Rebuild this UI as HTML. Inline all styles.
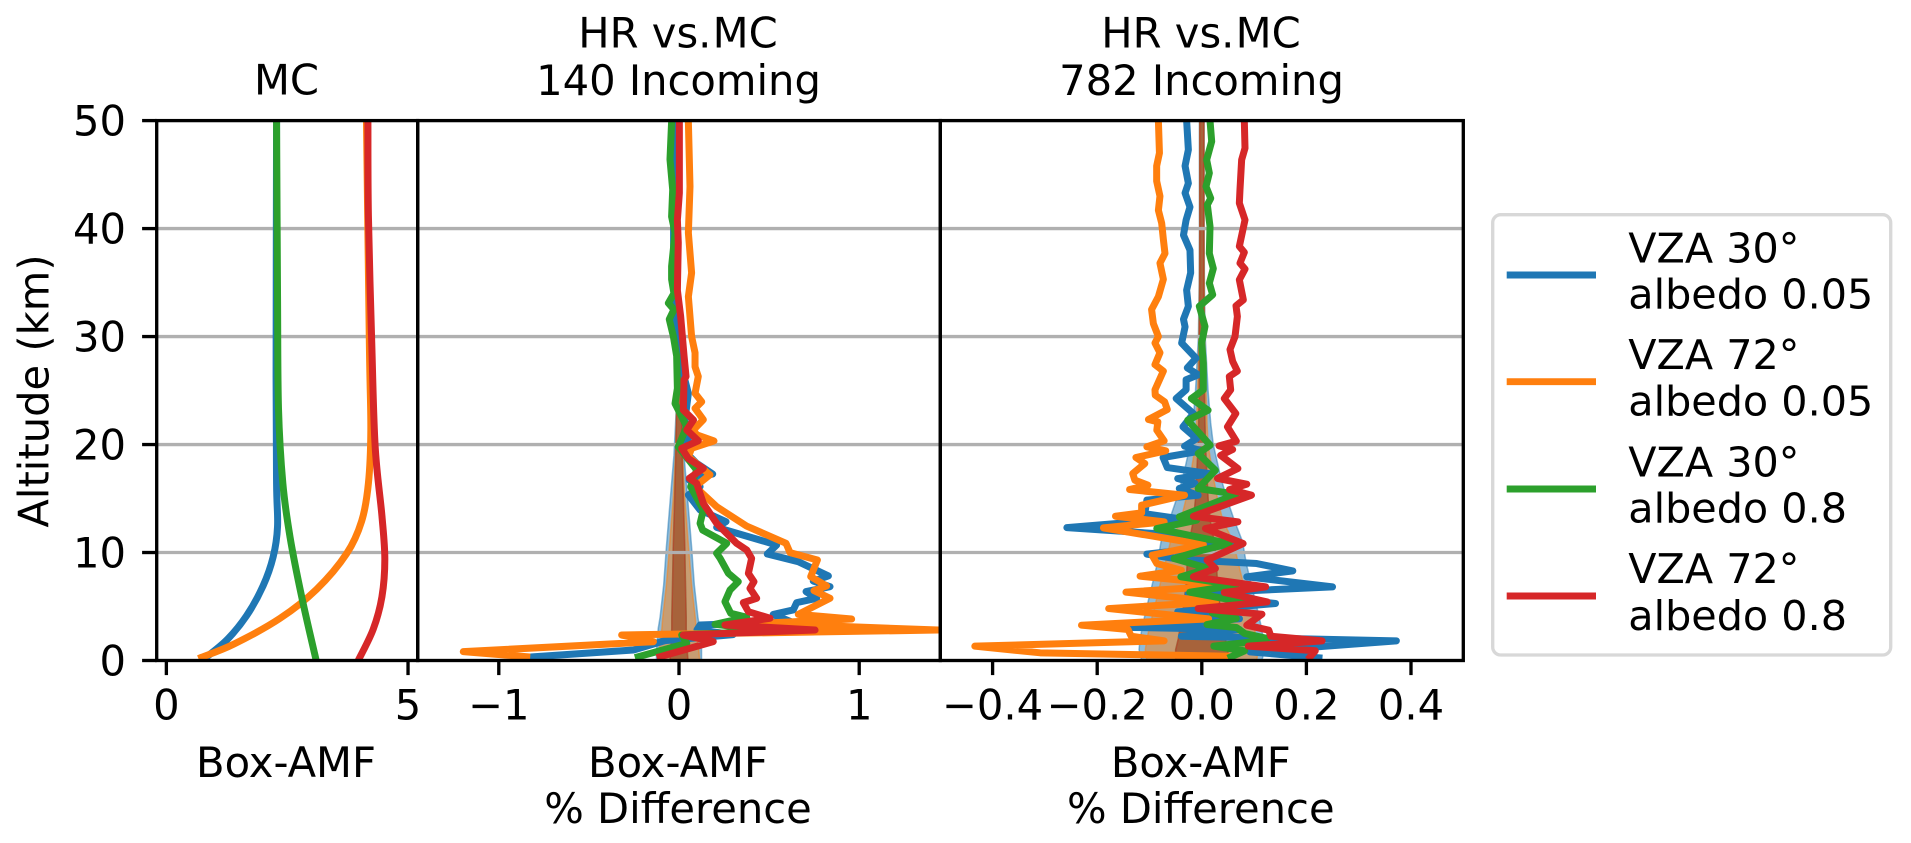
<!DOCTYPE html>
<html lang="en">
<head>
<meta charset="utf-8">
<title>Box-AMF profiles</title>
<style>
html,body{margin:0;padding:0;background:#fff;width:1911px;height:843px;overflow:hidden}
svg{display:block}
text{font-family:"DejaVu Sans","Liberation Sans",sans-serif;font-size:41.67px;fill:#000}
.lg{font-size:41.3px}
</style>
</head>
<body>
<svg id="chart" xmlns="http://www.w3.org/2000/svg" width="1911" height="843" viewBox="0 0 1911 843">
  <defs>
    <clipPath id="clip-mc"><rect x="156.7" y="120.6" width="261" height="540"/></clipPath>
    <clipPath id="clip-p140"><rect x="417.7" y="120.6" width="522.6" height="540"/></clipPath>
    <clipPath id="clip-p782"><rect x="940.3" y="120.6" width="523" height="540"/></clipPath>
  </defs>
  <rect width="1911" height="843" fill="#fff"/>
  <g id="bands"></g>
  <g id="grid"></g>
  <g id="lines"></g>
  <g id="axes"></g>

  <text x="286.5" y="94.7" text-anchor="middle">MC</text>
  <text x="678" y="47.7" text-anchor="middle">HR vs.<tspan font-size="4"> </tspan>MC</text>
  <text x="678.5" y="95" text-anchor="middle">140 Incoming</text>
  <text x="1201" y="47.7" text-anchor="middle">HR vs.<tspan font-size="4"> </tspan>MC</text>
  <text x="1201.5" y="95" text-anchor="middle">782 Incoming</text>

  <text transform="translate(48.3 391) rotate(-90)" text-anchor="middle">Altitude (km)</text>

  <text x="286" y="777" text-anchor="middle">Box-AMF</text>
  <text x="678" y="777" text-anchor="middle">Box-AMF</text>
  <text x="678" y="823" text-anchor="middle">% Difference</text>
  <text x="1200.8" y="777" text-anchor="middle">Box-AMF</text>
  <text x="1200.8" y="823" text-anchor="middle">% Difference</text>

  <g>
    <rect x="1492.7" y="214.7" width="398" height="440.3" rx="8" ry="8" fill="#fff" stroke="#d8d8d8" stroke-width="3.33"/>
    <g>
      <line x1="1506.7" x2="1596" y1="275" y2="275" stroke="#1f77b4" stroke-width="6.9"/>
      <text class="lg" x="1628.3" y="262.7">VZA 30°</text>
      <text class="lg" x="1628.3" y="308.5">albedo 0.05</text>
    </g>
    <g>
      <line x1="1506.7" x2="1596" y1="381.7" y2="381.7" stroke="#ff7f0e" stroke-width="6.9"/>
      <text class="lg" x="1628.3" y="369">VZA 72°</text>
      <text class="lg" x="1628.3" y="415.7">albedo 0.05</text>
    </g>
    <g>
      <line x1="1506.7" x2="1596" y1="489" y2="489" stroke="#2ca02c" stroke-width="6.9"/>
      <text class="lg" x="1628.3" y="476.7">VZA 30°</text>
      <text class="lg" x="1628.3" y="522.5">albedo 0.8</text>
    </g>
    <g>
      <line x1="1506.7" x2="1596" y1="596" y2="596" stroke="#d62728" stroke-width="6.9"/>
      <text class="lg" x="1628.3" y="583">VZA 72°</text>
      <text class="lg" x="1628.3" y="630">albedo 0.8</text>
    </g>
  </g>
</svg>
<script>
// ---- tick labels ----
const altitudeTicks = [0, 10, 20, 30, 40, 50];
const altitudeGrid = [10, 20, 30, 40];
const mcTicks = [0, 5];
const p140Ticks = [-1, 0, 1];
const p782Ticks = [-0.4, -0.2, 0, 0.2, 0.4];
const mcTickLabels = ['0', '5'];
const p140TickLabels = ['\u22121', '0', '1'];
const p782TickLabels = ['\u22120.4', '\u22120.2', '0.0', '0.2', '0.4'];

// ---- MC panel: Box-AMF ----
const mcBlueAlt = [0.1, 1.9, 4.15, 6.9, 9.6, 12.4, 16.4, 26.3, 50];
const mcBlueVal = [0.766, 1.25, 1.66, 2.0, 2.21, 2.3, 2.28, 2.27, 2.28];
const mcOrangeAlt = [0.3, 1.5, 3.9, 6.6, 9.9, 12.9, 16.4, 21.3, 29.3, 50];
const mcOrangeVal = [0.73, 1.39, 2.35, 3.11, 3.73, 4.04, 4.18, 4.23, 4.2, 4.14];
const mcGreenAlt = [0, 5.9, 11.4, 16.4, 23.3, 33.8, 50];
const mcGreenVal = [3.1, 2.8, 2.56, 2.41, 2.32, 2.3, 2.28];
const mcRedAlt = [0, 2.9, 5.9, 9.4, 13.4, 19.8, 29.3, 41.2, 50];
const mcRedVal = [3.97, 4.28, 4.46, 4.52, 4.46, 4.32, 4.25, 4.18, 4.17];

// ---- 140 Incoming panel: % difference ----
const p140BlueAlt = [0.3, 0.97, 1.84, 2.4, 2.85, 3.29, 3.6, 4.27, 4.68, 5.36, 5.76, 6.38, 6.84, 7.36, 7.83, 9.15, 9.86, 10.7, 12.33, 12.86, 13.94, 15.33, 16.1, 16.7, 17.27, 18.26, 19.65, 20.4, 22.27, 24.74, 25.97, 30, 33.1, 36.5, 39.6, 43.6, 46.4, 50];
const p140BlueVal = [-0.845, -0.253, -0.078, 0.3, 0.1, 0.117, 0.62, 0.523, 0.634, 0.653, 0.764, 0.705, 0.838, 0.745, 0.829, 0.662, 0.49, 0.542, 0.209, 0.261, 0.117, 0.052, 0.117, 0.057, 0.187, 0.098, 0.015, 0.052, 0.033, 0.052, 0.033, -0.015, -0.02, -0.03, -0.03, -0.03, -0.03, -0.03];
const p140OrangeAlt = [0.35, 0.82, 1.74, 2.36, 2.82, 3.44, 3.84, 4.27, 5.76, 6.47, 6.9, 7.77, 9.31, 9.99, 10.85, 12.45, 14.24, 15.1, 16.1, 17.2, 18.87, 19.65, 20.33, 20.9, 21.35, 22.3, 23.35, 23.96, 24.74, 26.3, 27.2, 28.5, 30, 33.7, 35.9, 39.6, 43.9, 49.9];
const p140OrangeVal = [-0.845, -1.197, -0.142, -0.318, 1.439, 0.45, 0.958, 0.662, 0.838, 0.749, 0.819, 0.731, 0.768, 0.616, 0.594, 0.375, 0.209, 0.154, 0.089, 0.172, 0.052, 0.07, 0.194, 0.098, 0.08, 0.135, 0.089, 0.126, 0.089, 0.107, 0.089, 0.089, 0.07, 0.052, 0.07, 0.052, 0.061, 0.052];
const p140GreenAlt = [0.35, 1.59, 2.36, 2.75, 3.35, 4.0, 4.37, 5.45, 6.53, 7.3, 8.07, 9.46, 9.93, 10.85, 12.08, 12.7, 13.94, 16.1, 17.64, 19.8, 21.66, 23.8, 25.2, 28.2, 30, 31.6, 32.5, 33.1, 34, 35.3, 36.5, 39.6, 41.1, 43.6, 46.4, 49.9];
const p140GreenVal = [-0.226, 0.043, 0.015, 0.5, 0.2, 0.376, 0.287, 0.255, 0.283, 0.329, 0.274, 0.228, 0.209, 0.265, 0.131, 0.117, 0.135, 0.065, 0.098, -0.004, 0.043, -0.022, -0.009, -0.013, -0.031, -0.054, -0.028, -0.059, -0.028, -0.041, -0.041, -0.022, -0.041, -0.035, -0.05, -0.041];
const p140RedAlt = [0.35, 1.75, 2.36, 2.82, 3.29, 3.91, 4.52, 5.36, 5.76, 6.68, 7.3, 8.07, 9.46, 10.23, 10.85, 12.7, 14.55, 16.4, 16.87, 17.8, 18.7, 19.65, 20.35, 21.35, 22.27, 23.2, 25.97, 26.3, 28.2, 31.9, 34.3, 38.7, 40.8, 43.3, 50];
const p140RedVal = [-0.105, 0.19, 0.024, 0.755, 0.255, 0.505, 0.385, 0.357, 0.431, 0.394, 0.416, 0.385, 0.403, 0.376, 0.32, 0.209, 0.135, 0.098, 0.057, 0.135, 0.052, 0.015, 0.107, 0.043, 0.08, 0.024, 0.028, 0.039, 0.028, 0.009, -0.009, -0.004, -0.009, 0.002, 0.002];
const p140BandAlt = [0, 1, 3, 4, 7, 10.5, 15, 19, 23, 30, 40, 50];
const p140BlueSpread = [0.125, 0.125, 0.115, 0.105, 0.085, 0.07, 0.048, 0.028, 0.016, 0.006, 0.004, 0.004];
const p140OrangeSpread = [0.115, 0.11, 0.095, 0.09, 0.07, 0.053, 0.032, 0.02, 0.013, 0.005, 0.004, 0.003];
const p140GreenSpread = [0.05, 0.045, 0.04, 0.04, 0.036, 0.032, 0.024, 0.018, 0.014, 0.005, 0.003, 0.003];
const p140RedSpread = [0.05, 0.045, 0.04, 0.04, 0.036, 0.032, 0.024, 0.018, 0.014, 0.005, 0.003, 0.003];

// ---- 782 Incoming panel: % difference ----
const p782BlueAlt = [0.25, 0.80, 1.82, 2.25, 2.87, 3.06, 3.86, 4.5, 5.28, 6.2, 6.82, 7.75, 8.3, 8.98, 9.35, 9.85, 10.77, 11.7, 12.31, 13.15, 13.6, 14.85, 15.3, 15.93, 16.4, 16.85, 17.3, 17.87, 18.8, 19.42, 19.85, 20.55, 21.64, 22.87, 24.26, 25.07, 26, 26.46, 27.1, 28, 29.4, 30.9, 31.6, 32.8, 34.3, 35.9, 38, 39.4, 40.8, 42, 43.3, 44.2, 45.8, 47.3, 50];
const p782BlueVal = [0.224, 0.092, 0.372, -0.039, 0.072, -0.132, 0.072, -0.046, 0.141, -0.026, 0.25, 0.086, 0.174, 0.105, -0.039, -0.105, 0.066, -0.072, -0.258, -0.046, -0.109, -0.105, -0.007, -0.043, -0.013, -0.046, 0.016, -0.066, -0.074, 0, -0.033, -0.01, -0.036, -0.016, -0.049, -0.03, -0.03, -0.0066, -0.0277, -0.011, -0.0385, -0.032, -0.035, -0.0257, -0.029, -0.0213, -0.0226, -0.035, -0.03, -0.0226, -0.032, -0.0257, -0.032, -0.0257, -0.029];
const p782OrangeAlt = [0.4, 0.71, 1.33, 1.82, 2.25, 2.87, 3.27, 3.86, 4.81, 5.43, 6.33, 6.98, 7.81, 8.36, 8.98, 9.75, 10.74, 12.28, 12.84, 13.36, 13.67, 14.38, 15.31, 15.83, 16.24, 16.7, 17.31, 18.24, 18.8, 19.42, 19.79, 20.34, 21.33, 22.1, 22.32, 23.24, 23.95, 24.57, 25.07, 26.8, 27.4, 28.5, 29.4, 30, 31.2, 32.5, 33.7, 35.3, 36.8, 37.7, 39, 40.5, 41.7, 43, 44.4, 45.8, 47, 50];
const p782OrangeVal = [0.046, -0.309, -0.434, -0.072, -0.135, -0.141, -0.23, 0.013, -0.178, 0.026, -0.145, 0.059, -0.118, -0.039, -0.086, -0.095, 0.003, -0.188, -0.072, -0.165, -0.115, -0.115, -0.033, -0.138, -0.103, -0.128, -0.132, -0.109, -0.126, -0.069, -0.105, -0.072, -0.086, -0.084, -0.102, -0.066, -0.071, -0.089, -0.0895, -0.0735, -0.0895, -0.08, -0.0895, -0.083, -0.0926, -0.096, -0.083, -0.0735, -0.08, -0.0704, -0.0735, -0.0767, -0.083, -0.08, -0.0863, -0.0863, -0.081, -0.083];
const p782GreenAlt = [0.34, 0.9, 1.33, 1.64, 2.04, 2.5, 3.06, 3.33, 3.89, 4.41, 5.43, 6.33, 6.98, 7.75, 8.52, 9.44, 10.2, 10.83, 12.22, 12.99, 13.3, 15.4, 15.93, 17.62, 19.17, 19.94, 22.25, 23.18, 24.26, 25.07, 27.54, 29.4, 30.94, 32.8, 33.87, 34.95, 36.3, 37.7, 40.2, 42.2, 42.8, 43.9, 45.14, 46.37, 48.07, 50];
const p782GreenVal = [0.056, 0.082, 0.023, 0.082, 0.125, 0.082, 0.066, 0.01, 0.066, 0.02, 0.076, -0.023, 0.066, -0.04, 0.013, -0.053, 0, 0.052, -0.086, -0.01, -0.043, 0.066, -0.007, 0.026, -0.007, 0.016, -0.027, 0.012, -0.02, 0.0029, 0.0029, -0.0003, 0.0061, -0.0047, 0.0208, 0.0144, 0.022, 0.0144, 0.0157, 0.0106, 0.017, 0.008, 0.0144, 0.0093, 0.0189, 0.0157];
const p782RedAlt = [0.34, 0.9, 1.33, 1.82, 2.25, 2.81, 3.27, 4.29, 4.81, 5.43, 6.3, 6.82, 7.75, 8.52, 9.3, 10.83, 12.22, 12.84, 13.36, 15.31, 15.83, 16.33, 16.86, 17.78, 19.0, 19.54, 19.88, 20.31, 21.64, 22.87, 24.26, 25.07, 26.3, 26.8, 27.7, 28.8, 30, 31.86, 32.85, 33.4, 35.26, 36.25, 36.8, 37.8, 38.35, 40.8, 42.36, 43.6, 46.37, 47.45, 50];
const p782RedVal = [0.207, 0.217, 0.089, 0.23, 0.132, 0.128, 0.086, 0.115, -0.007, 0.125, 0.043, 0.122, -0.016, 0.026, 0.01, 0.079, 0.007, 0.069, -0.016, 0.095, 0.053, 0.086, 0.03, 0.069, 0.036, 0.059, 0.033, 0.066, 0.049, 0.065, 0.043, 0.0552, 0.0526, 0.068, 0.059, 0.0539, 0.0635, 0.068, 0.0654, 0.0794, 0.0718, 0.0826, 0.073, 0.0813, 0.0718, 0.0826, 0.0718, 0.073, 0.0762, 0.0826, 0.0813];
const p782BandAlt = [0, 1, 2, 3.5, 5, 7, 9, 11, 13, 15, 17, 20, 22, 25, 30, 35, 40, 50];
const p782BlueSpread = [0.115, 0.12, 0.118, 0.112, 0.105, 0.095, 0.085, 0.078, 0.062, 0.048, 0.036, 0.022, 0.017, 0.012, 0.0065, 0.005, 0.0045, 0.0045];
const p782OrangeSpread = [0.105, 0.108, 0.105, 0.098, 0.09, 0.08, 0.07, 0.06, 0.04, 0.03, 0.022, 0.012, 0.01, 0.008, 0.0055, 0.0045, 0.004, 0.004];
const p782GreenSpread = [0.05, 0.05, 0.045, 0.04, 0.035, 0.03, 0.028, 0.024, 0.016, 0.012, 0.01, 0.007, 0.006, 0.005, 0.005, 0.004, 0.004, 0.004];
const p782RedSpread = [0.05, 0.05, 0.045, 0.04, 0.035, 0.03, 0.028, 0.024, 0.016, 0.012, 0.01, 0.007, 0.006, 0.005, 0.005, 0.004, 0.004, 0.004];

// ---- axis functions ----
const AXIS_TOP = 120.6, AXIS_BOTTOM = 660.5;
function yAlt(a) { return AXIS_BOTTOM - (a / 50) * (AXIS_BOTTOM - AXIS_TOP); }
function scaleX(left, right, min, max) {
  return function (v) { return left + (v - min) / (max - min) * (right - left); };
}
const xMc = scaleX(156.7, 417.7, -0.2, 5.2);
const xP140 = scaleX(417.7, 940.3, -1.45, 1.45);
const xP782 = scaleX(940.3, 1463.3, -0.5, 0.5);

const NS = 'http://www.w3.org/2000/svg';
const COLORS = { blue: '#1f77b4', orange: '#ff7f0e', green: '#2ca02c', red: '#d62728' };
const bandsG = document.getElementById('bands');
const gridG = document.getElementById('grid');
const linesG = document.getElementById('lines');
const axesG = document.getElementById('axes');
function mk(tag, attrs, parent) {
  const el = document.createElementNS(NS, tag);
  for (const k in attrs) el.setAttribute(k, attrs[k]);
  parent.appendChild(el);
  return el;
}

function polyPath(alt, val, xf) {
  return alt.map(function (a, i) {
    return (i ? 'L' : 'M') + xf(val[i]).toFixed(2) + ' ' + yAlt(a).toFixed(2);
  }).join('');
}
function smoothPath(alt, val, xf) {
  const p = alt.map(function (a, i) { return [xf(val[i]), yAlt(a)]; });
  let d = 'M' + p[0][0].toFixed(2) + ' ' + p[0][1].toFixed(2);
  for (let i = 0; i < p.length - 1; i++) {
    const p0 = p[Math.max(i - 1, 0)], p1 = p[i], p2 = p[i + 1], p3 = p[Math.min(i + 2, p.length - 1)];
    const c1x = p1[0] + (p2[0] - p0[0]) / 6, c1y = p1[1] + (p2[1] - p0[1]) / 6;
    const c2x = p2[0] - (p3[0] - p1[0]) / 6, c2y = p2[1] - (p3[1] - p1[1]) / 6;
    d += 'C' + c1x.toFixed(2) + ' ' + c1y.toFixed(2) + ' ' + c2x.toFixed(2) + ' ' + c2y.toFixed(2) + ' ' + p2[0].toFixed(2) + ' ' + p2[1].toFixed(2);
  }
  return d;
}

function drawLine(d, color, clip, name) {
  const el = mk('path', { d: d, fill: 'none', stroke: COLORS[color], 'stroke-width': 7, 'stroke-linejoin': 'round', 'stroke-linecap': 'square', 'clip-path': 'url(#' + clip + ')' }, linesG);
  
  
}
function drawBand(alt, spread, xf, color, clip, name) {
  const right = alt.map(function (a, i) { return xf(spread[i]).toFixed(2) + ' ' + yAlt(a).toFixed(2); });
  const left = alt.map(function (a, i) { return xf(-spread[i]).toFixed(2) + ' ' + yAlt(a).toFixed(2); }).reverse();
  const el = mk('path', { d: 'M' + right.concat(left).join('L') + 'Z', fill: COLORS[color], 'fill-opacity': 0.5, stroke: COLORS[color], 'stroke-opacity': 0.5, 'stroke-width': 1.5, 'clip-path': 'url(#' + clip + ')' }, bandsG);
  
  
}

// bands
drawBand(p140BandAlt, p140BlueSpread, xP140, 'blue', 'clip-p140', 'p140-band-blue');
drawBand(p140BandAlt, p140OrangeSpread, xP140, 'orange', 'clip-p140', 'p140-band-orange');
drawBand(p140BandAlt, p140GreenSpread, xP140, 'green', 'clip-p140', 'p140-band-green');
drawBand(p140BandAlt, p140RedSpread, xP140, 'red', 'clip-p140', 'p140-band-red');
drawBand(p782BandAlt, p782BlueSpread, xP782, 'blue', 'clip-p782', 'p782-band-blue');
drawBand(p782BandAlt, p782OrangeSpread, xP782, 'orange', 'clip-p782', 'p782-band-orange');
drawBand(p782BandAlt, p782GreenSpread, xP782, 'green', 'clip-p782', 'p782-band-green');
drawBand(p782BandAlt, p782RedSpread, xP782, 'red', 'clip-p782', 'p782-band-red');

// gridlines
altitudeGrid.forEach(function (a) {
  const el = mk('line', { x1: 156.7, x2: 1463.3, y1: yAlt(a), y2: yAlt(a), stroke: '#b0b0b0', 'stroke-width': 3.33 }, gridG);
  
  
});

// lines
drawLine(smoothPath(mcBlueAlt, mcBlueVal, xMc), 'blue', 'clip-mc', 'mc-line-blue');
drawLine(smoothPath(mcOrangeAlt, mcOrangeVal, xMc), 'orange', 'clip-mc', 'mc-line-orange');
drawLine(smoothPath(mcGreenAlt, mcGreenVal, xMc), 'green', 'clip-mc', 'mc-line-green');
drawLine(smoothPath(mcRedAlt, mcRedVal, xMc), 'red', 'clip-mc', 'mc-line-red');
drawLine(polyPath(p140BlueAlt, p140BlueVal, xP140), 'blue', 'clip-p140', 'p140-line-blue');
drawLine(polyPath(p140OrangeAlt, p140OrangeVal, xP140), 'orange', 'clip-p140', 'p140-line-orange');
drawLine(polyPath(p140GreenAlt, p140GreenVal, xP140), 'green', 'clip-p140', 'p140-line-green');
drawLine(polyPath(p140RedAlt, p140RedVal, xP140), 'red', 'clip-p140', 'p140-line-red');
drawLine(polyPath(p782BlueAlt, p782BlueVal, xP782), 'blue', 'clip-p782', 'p782-line-blue');
drawLine(polyPath(p782OrangeAlt, p782OrangeVal, xP782), 'orange', 'clip-p782', 'p782-line-orange');
drawLine(polyPath(p782GreenAlt, p782GreenVal, xP782), 'green', 'clip-p782', 'p782-line-green');
drawLine(polyPath(p782RedAlt, p782RedVal, xP782), 'red', 'clip-p782', 'p782-line-red');

// frames
[[156.7, 417.7, 'mc-frame'], [417.7, 940.3, 'p140-frame'], [940.3, 1463.3, 'p782-frame']].forEach(function (f) {
  const el = mk('rect', { x: f[0], y: AXIS_TOP, width: f[1] - f[0], height: AXIS_BOTTOM - AXIS_TOP, fill: 'none', stroke: '#000', 'stroke-width': 3.33 }, axesG);
  
  
});

// x ticks
function xTicks(ticks, labels, xf, prefix) {
  ticks.forEach(function (t, i) {
    const tick = mk('line', { x1: xf(t), x2: xf(t), y1: AXIS_BOTTOM, y2: AXIS_BOTTOM + 14.6, stroke: '#000', 'stroke-width': 3.33 }, axesG);
    
    
    const label = mk('text', { x: xf(t), y: 719.4, 'text-anchor': 'middle' }, axesG);
    label.textContent = labels[i];
    
    
  });
}
xTicks(mcTicks, mcTickLabels, xMc, 'mc');
xTicks(p140Ticks, p140TickLabels, xP140, 'p140');
xTicks(p782Ticks, p782TickLabels, xP782, 'p782');

// y ticks
altitudeTicks.forEach(function (a) {
  const tick = mk('line', { x1: 142.1, x2: 156.7, y1: yAlt(a), y2: yAlt(a), stroke: '#000', 'stroke-width': 3.33 }, axesG);
  
  
  const label = mk('text', { x: 126, y: yAlt(a) + 15, 'text-anchor': 'end' }, axesG);
  label.textContent = String(a);
  
  
});
</script>
</body>
</html>
